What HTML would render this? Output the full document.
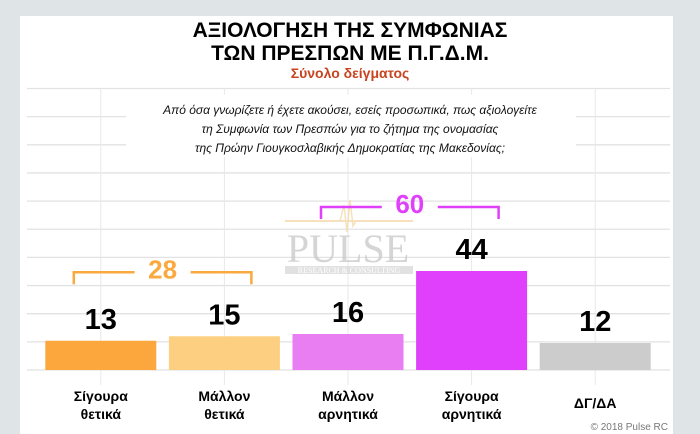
<!DOCTYPE html>
<html><head><meta charset="utf-8">
<style>
html,body{margin:0;padding:0;width:700px;height:434px;overflow:hidden;background:#dfe4e7;}
svg{display:block;font-family:"Liberation Sans",sans-serif;}
</style></head>
<body>
<svg id="chart" width="700" height="434" viewBox="0 0 700 434">
  <rect x="20" y="16" width="653" height="418" fill="#ffffff"/>
  <g id="grid"></g>
  <text x="350" y="37" text-anchor="middle" font-size="21" font-weight="bold">ΑΞΙΟΛΟΓΗΣΗ ΤΗΣ ΣΥΜΦΩΝΙΑΣ</text>
  <text x="350" y="60" text-anchor="middle" font-size="21" font-weight="bold">ΤΩΝ ΠΡΕΣΠΩΝ ΜΕ Π.Γ.Δ.Μ.</text>
  <text x="350" y="78" text-anchor="middle" font-size="14" font-weight="bold" fill="#c8441f">Σύνολο δείγματος</text>
  <rect x="126" y="95" width="450" height="62" fill="#ffffff"/>
  <g font-size="12" font-style="italic" text-anchor="middle" fill="#111">
    <text x="350" y="114">Από όσα γνωρίζετε ή έχετε ακούσει, εσείς προσωπικά, πως αξιολογείτε</text>
    <text x="350" y="133">τη Συμφωνία των Πρεσπών για το ζήτημα της ονομασίας</text>
    <text x="350" y="152">της Πρώην Γιουγκοσλαβικής Δημοκρατίας της Μακεδονίας;</text>
  </g>
  <g opacity="0.75">
    <line x1="285" y1="221" x2="413" y2="221" stroke="#f5d7a8" stroke-width="2"/>
    <polyline points="340,221 344,205 347,232 350,200 353,226 356,221" fill="none" stroke="#f5d7a8" stroke-width="1.5"/>
    <text x="348" y="262" text-anchor="middle" font-family="Liberation Serif,serif" font-size="40" fill="#c8c8c8">PULSE</text>
    <rect x="285" y="266" width="128" height="8" fill="#d8d8d8"/>
    <text x="349" y="273" text-anchor="middle" font-family="Liberation Serif,serif" font-size="8" fill="#fff">RESEARCH &amp; CONSULTING</text>
  </g>
  <g id="bars"></g>
  <g id="brackets"></g>
  <text x="668" y="430" text-anchor="end" font-size="10" fill="#777">© 2018 Pulse RC</text>
</svg>
<script>
const categories = [["Σίγουρα","θετικά"],["Μάλλον","θετικά"],["Μάλλον","αρνητικά"],["Σίγουρα","αρνητικά"],["ΔΓ/ΔΑ"]];
const values = [13, 15, 16, 44, 12];
const colors = ["#fba73d","#fdcf80","#e97df2","#e040fb","#cccccc"];
const groupTotals = [28, 60];
const groupRanges = [[0,1],[2,3]];
const groupColors = ["#f9a940","#e040fb"];

const NS="http://www.w3.org/2000/svg";
const baseY=370, unit=2.25, x0=39, band=123.6, barW=111;
function yScale(v){return baseY - v*unit;}
function xCenter(i){return x0 + band*i + band/2;}
function mk(tag, attrs, parent){const e=document.createElementNS(NS,tag);for(const k in attrs)e.setAttribute(k,attrs[k]);parent.appendChild(e);return e;}

const grid=document.getElementById('grid');
for(let k=0;k<=10;k++){
  const y=baseY-k*28.15;
  const l=mk('line',{x1:27,x2:670,y1:y,y2:y,stroke:'#e2e2e2','stroke-width':1.3},grid);
  
  
}
for(let i=0;i<5;i++){
  const l=mk('line',{x1:xCenter(i),x2:xCenter(i),y1:88,y2:385,stroke:'#e8e8e8','stroke-width':1},grid);
  
  
}
const bars=document.getElementById('bars');
values.forEach((v,i)=>{
  const cx=xCenter(i);
  const r=mk('rect',{x:cx-barW/2,y:yScale(v),width:barW,height:v*unit,fill:colors[i]},bars);
  
  
  const t=mk('text',{x:cx,y:yScale(v)-12,'text-anchor':'middle','font-size':29,'font-weight':'bold'},bars);
  t.textContent=v;
  
  
  categories[i].forEach((s,j)=>{
    const c=mk('text',{x:cx,y:(categories[i].length===1?408:401)+j*18,'text-anchor':'middle','font-size':14,'font-weight':'bold'},bars);
    c.textContent=s;
    
    
  });
});
const br=document.getElementById('brackets');
groupTotals.forEach((tot,g)=>{
  const [a,b]=groupRanges[g];
  const maxV=Math.max(values[a],values[b]);
  const y=yScale(maxV)-64;
  const x1=xCenter(a)-27, x2=xCenter(b)+27, mid=(x1+x2)/2;
  const col=groupColors[g];
  const p=mk('path',{d:`M${x1},${y+12} V${y} H${mid-28} M${mid+28},${y} H${x2} V${y+12}`,fill:'none',stroke:col,'stroke-width':2.5},br);
  
  
  const t=mk('text',{x:mid,y:y+6,'text-anchor':'middle','font-size':26,'font-weight':'bold',fill:col},br);
  t.textContent=tot;
  
  
});
</script>
</body></html>
